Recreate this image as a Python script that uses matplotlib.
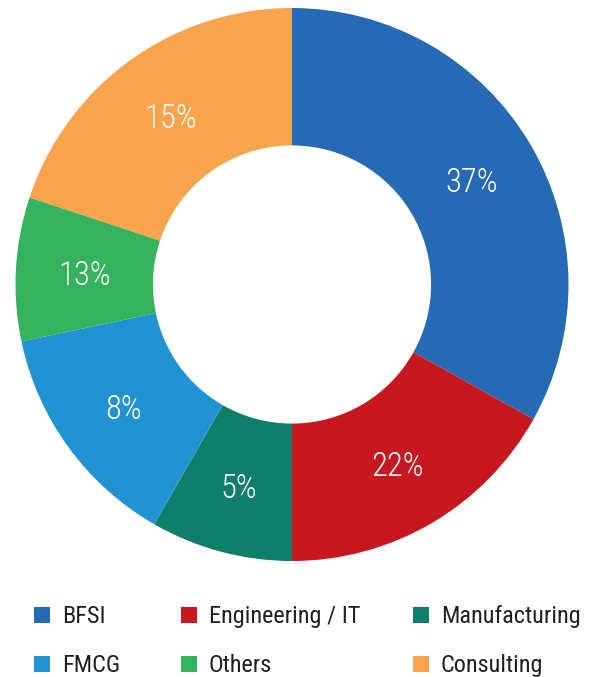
import matplotlib
matplotlib.use("Agg")
import matplotlib.pyplot as plt
from matplotlib.patches import Rectangle
import numpy as np

categories = ["BFSI", "Engineering / IT", "Manufacturing", "FMCG", "Others", "Consulting"]
slice_values = [33.1, 16.9, 8.3, 13.4, 8.4, 19.9]
pct_labels = ["37%", "22%", "5%", "8%", "13%", "15%"]
colors = ["#2669B4", "#C8171F", "#0F7E6A", "#2193D3", "#35B25C", "#F8A44C"]

plt.rcParams['font.family'] = ['Roboto Condensed', 'Liberation Sans Narrow', 'Roboto', 'DejaVu Sans']

W, H = 597, 677
fig = plt.figure(figsize=(W / 100, H / 100), dpi=100)
cx, cy, R = 292, 284.5, 276.5
ax = fig.add_axes([(cx - R) / W, (H - cy - R) / H, 2 * R / W, 2 * R / H])

wedges, _ = ax.pie(slice_values, colors=colors, startangle=90, counterclock=False,
                   radius=1.0, wedgeprops=dict(width=0.497, edgecolor='none'))
ax.set_xlim(-1, 1)
ax.set_ylim(-1, 1)
ax.set_aspect('equal')
ax.axis('off')

r_lab = 0.752
for w, lab in zip(wedges, pct_labels):
    ang = np.deg2rad((w.theta1 + w.theta2) / 2)
    ax.text(r_lab * np.cos(ang), r_lab * np.sin(ang) - 0.012, lab, ha='center', va='center',
            color='white', fontsize=23.5, fontweight='light')

# legend
col_x = [34, 181, 413]
row_base = [623, 672]
for i, (cat, col) in enumerate(zip(categories, colors)):
    r, c = divmod(i, 3)
    x0, yb = col_x[c], row_base[r]
    fig.patches.append(Rectangle((x0 / W, 1 - (yb) / H), 16 / W, 16 / H,
                                 transform=fig.transFigure, facecolor=col, edgecolor='none'))
    fig.text((x0 + 28) / W, 1 - yb / H, cat, ha='left', va='baseline',
             fontsize=17.5, color='#231F20')

fig.savefig("out.png", dpi=100)
